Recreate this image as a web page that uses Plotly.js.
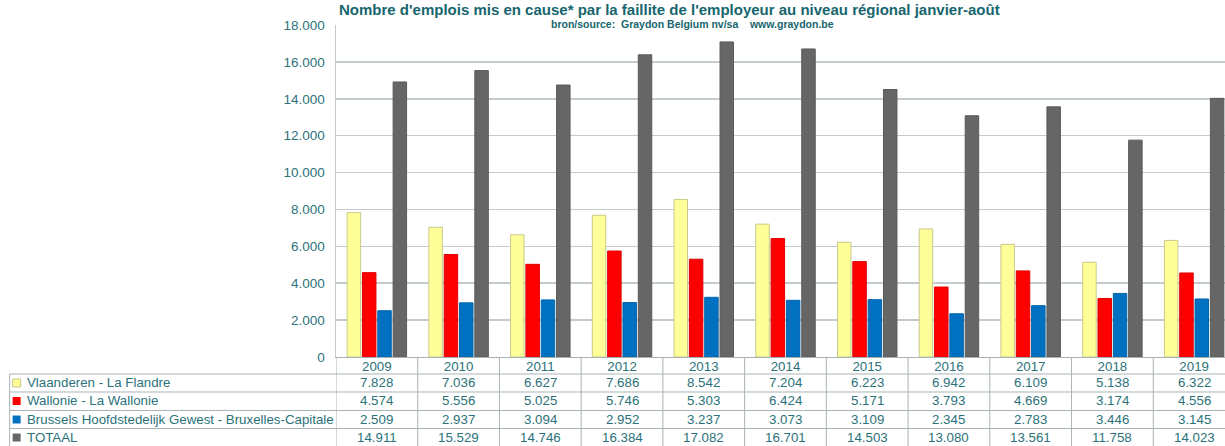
<!DOCTYPE html>
<html>
<head>
<meta charset="utf-8">
<script src="https://cdn.plot.ly/plotly-3.0.1.min.js"></script>
<style>
html,body{margin:0;padding:0;overflow:hidden;background:#fff;}
#chart{width:1236px;height:446px;}
</style>
</head>
<body>
<div id="chart"></div>
<script>
// ---- data ----
const years = ['2009','2010','2011','2012','2013','2014','2015','2016','2017','2018','2019'];
const seriesNames = ['Vlaanderen - La Flandre','Wallonie - La Wallonie','Brussels Hoofdstedelijk Gewest - Bruxelles-Capitale','TOTAAL'];
const vlaanderen = [7828,7036,6627,7686,8542,7204,6223,6942,6109,5138,6322];
const wallonie   = [4574,5556,5025,5746,5303,6424,5171,3793,4669,3174,4556];
const brussel    = [2509,2937,3094,2952,3237,3073,3109,2345,2783,3446,3145];
const totaal     = [14911,15529,14746,16384,17082,16701,14503,13080,13561,11758,14023];
const yTicks = [0,2000,4000,6000,8000,10000,12000,14000,16000,18000];
const titleText = "Nombre d'emplois mis en cause* par la faillite de l'employeur au niveau régional janvier-août";
const subtitleText = "bron/source:  Graydon Belgium nv/sa    www.graydon.be";

// ---- styles ----
const allSeries = [vlaanderen, wallonie, brussel, totaal];
const fills = ['#ffff99','#ff0000','#0070c0','#666666'];
const outlines = ['#c9c98a','#e00000','#0064ad','#5a5a5a'];
const teal = '#2b727a';
const gridCol = '#c3cbcc';
const tableLine = '#a9b3b5';
const FONT = 'Liberation Sans, Arial, sans-serif';

function fmt(n){ return String(n).replace(/\B(?=(\d{3})+(?!\d))/g,'.'); }

const traces = allSeries.map((vals,i)=>({
  type:'bar', x:years, y:vals, name:seriesNames[i],
  marker:{color:fills[i], line:{color:outlines[i], width:1}},
  hoverinfo:'skip'
}));

// table geometry (paper units relative to plot area)
const rowLines = [-0.0512,-0.1054,-0.1611,-0.2154,-0.2696];
const rowCenters = [-0.0783,-0.1325,-0.1883,-0.2425];
const leftX = -0.363;

const shapes = [];
const annotations = [];
rowLines.forEach(y=>{
  shapes.push({type:'line', xref:'paper', yref:'paper', x0:leftX, x1:1, y0:y, y1:y, line:{color:tableLine, width:1}});
});
shapes.push({type:'line', xref:'paper', yref:'paper', x0:leftX, x1:leftX, y0:rowLines[0], y1:rowLines[4], line:{color:tableLine, width:1}});
for(let i=0;i<=years.length;i++){
  shapes.push({type:'line', xref:'x', yref:'paper', x0:i-0.5, x1:i-0.5, y0:0, y1:rowLines[4], line:{color:tableLine, width:1}});
}
seriesNames.forEach((nm,i)=>{
  shapes.push({type:'rect', xref:'paper', yref:'paper', x0:-0.3597, x1:-0.3508, y0:rowCenters[i]-0.012, y1:rowCenters[i]+0.012,
    fillcolor:fills[i], line:{color:outlines[i], width: i===0?1:0}});
  annotations.push({xref:'paper', yref:'paper', x:-0.3463, y:rowCenters[i], xanchor:'left', yanchor:'middle',
    text:nm, showarrow:false, font:{family:FONT, size:13.3, color:teal}});
});
allSeries.forEach((vals,i)=>{
  vals.forEach((v,j)=>{
    annotations.push({xref:'x', yref:'paper', x:j, y:rowCenters[i], xanchor:'center', yanchor:'middle',
      text:fmt(v), showarrow:false, font:{family:FONT, size:13.3, color:teal}});
  });
});
annotations.push({xref:'paper', yref:'paper', x:0.371, y:1.0753, xanchor:'center', yanchor:'top', borderpad:0,
  text:'<b>'+titleText+'</b>', showarrow:false, font:{family:FONT, size:15, color:'#17666e'}});
annotations.push({xref:'paper', yref:'paper', x:0.396, y:1.0241, xanchor:'center', yanchor:'top', borderpad:0,
  text:'<b>'+subtitleText+'</b>', showarrow:false, font:{family:FONT, size:10.5, color:'#17666e'}});

const layout = {
  width:1236, height:446,
  margin:{l:336, r:1, t:25, b:89, pad:0},
  paper_bgcolor:'#ffffff', plot_bgcolor:'#ffffff',
  separators:',.',
  showlegend:false,
  barmode:'group', bargap:0.25, bargroupgap:0.12,
  xaxis:{type:'category', showgrid:false, showline:true, linecolor:tableLine, linewidth:1,
    ticks:'', ticklabelstandoff:-3, tickfont:{family:FONT, size:13.3, color:teal}, range:[-0.5,10.5], fixedrange:true},
  yaxis:{range:[0,18000], tickvals:yTicks, tickformat:',d', showgrid:true, gridcolor:gridCol, gridwidth:1.5,
    showline:true, linecolor:gridCol, linewidth:1.5, ticks:'', ticklabelstandoff:7, zeroline:false,
    tickfont:{family:FONT, size:13.5, color:teal}, fixedrange:true},
  shapes:shapes,
  annotations:annotations,
  font:{family:FONT}
};

Plotly.newPlot('chart', traces, layout, {displayModeBar:false, staticPlot:true});
</script>
</body>
</html>
